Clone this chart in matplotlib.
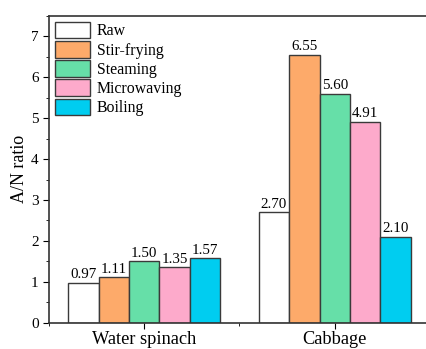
import matplotlib
matplotlib.use("Agg")
import matplotlib.pyplot as plt
import numpy as np
from matplotlib.ticker import MultipleLocator

plt.rcParams['font.family'] = ['Liberation Serif', 'DejaVu Serif']

vegetables = ["Water spinach", "Cabbage"]
methods = ["Raw", "Stir-frying", "Steaming", "Microwaving", "Boiling"]
ratios = {
	"Raw": [0.97, 2.70],
	"Stir-frying": [1.11, 6.55],
	"Steaming": [1.50, 5.60],
	"Microwaving": [1.35, 4.91],
	"Boiling": [1.57, 2.10],
}
colors = ["#FFFFFF", "#FDAA6A", "#66DFA8", "#FDAACB", "#00CDF0"]

fig = plt.figure(figsize=(4.27, 3.49), dpi=100)
ax = fig.add_axes([49/427, 26.3/349, 381/427, 306.7/349])

x = np.arange(1, len(vegetables)+1)
bar_w = 0.16
for i, m in enumerate(methods):
	pos = x + (i - 2) * bar_w
	bars = ax.bar(pos, ratios[m], width=bar_w, color=colors[i],
		edgecolor="#3a3a3a", linewidth=1.0, label=m)
	for b, v in zip(bars, ratios[m]):
		ax.text(b.get_x() + b.get_width()/2, v + 0.04, f"{v:.2f}",
			ha="center", va="bottom", fontsize=10.8)

ax.set_xlim(0.5, 2.5)
ax.set_ylim(0, 7.5)
ax.set_xticks(x)
ax.set_xticklabels(vegetables, fontsize=13.2)
ax.xaxis.set_minor_locator(MultipleLocator(0.5))
ax.yaxis.set_major_locator(MultipleLocator(1))
ax.yaxis.set_minor_locator(MultipleLocator(0.5))
ax.tick_params(axis="y", which="major", labelsize=11, length=4, direction="out")
ax.tick_params(axis="y", which="minor", length=2.5, direction="out")
ax.tick_params(axis="x", which="major", length=4, direction="out", pad=2)
ax.tick_params(axis="x", which="minor", length=2.5, direction="out")
ax.set_ylabel("A/N ratio", fontsize=13, labelpad=2)

for s in ax.spines.values():
	s.set_linewidth(1.2)
	s.set_color("#333333")

ax.legend(loc="upper left", fontsize=11.4, frameon=False,
	handlelength=2.25, handleheight=1.25, handletextpad=0.4,
	labelspacing=0.1, borderaxespad=0.15, borderpad=0.2)

fig.savefig("out.png", dpi=100)
